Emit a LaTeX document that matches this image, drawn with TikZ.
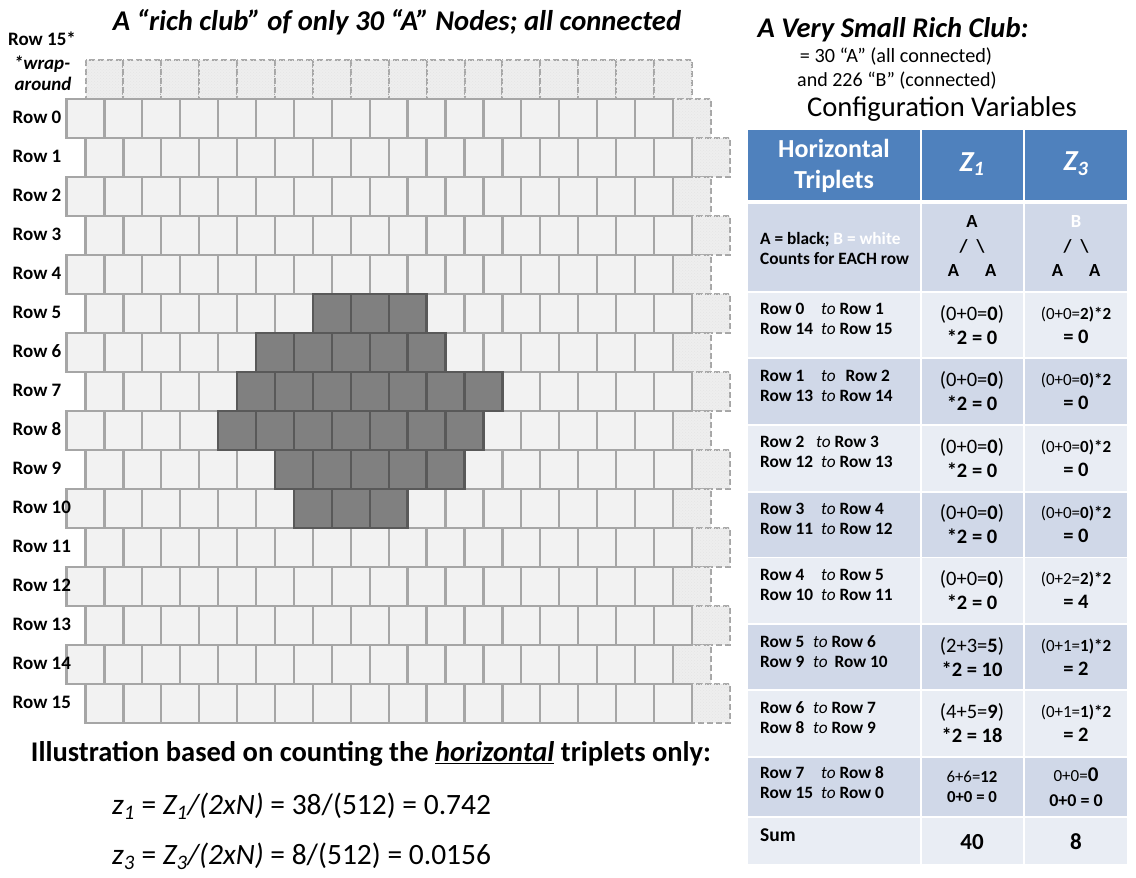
\documentclass[tikz,border=0pt]{standalone}
\usepackage{fontspec}
\setmainfont{Carlito}
\usetikzlibrary{patterns}
\definecolor{cellfill}{HTML}{F2F2F2}
\definecolor{cellline}{HTML}{A6A6A6}
\definecolor{darkfill}{HTML}{808080}
\definecolor{darkline}{HTML}{595959}
\definecolor{wrapfill}{HTML}{EEEEEE}
\definecolor{hdrblue}{HTML}{4F81BD}
\definecolor{rowdark}{HTML}{D0D8E8}
\definecolor{rowlight}{HTML}{E9EDF4}
\newcommand{\fsz}[2]{\fontsize{#1}{#2}\selectfont}
\newcommand{\rr}[3]{\makebox[#1pt][l]{#2}{\mdseries\itshape to} #3}
\tikzset{
  lightcell/.style={fill=cellfill,draw=cellline,line width=2.3pt},
  darkcell/.style={fill=darkfill,draw=darkline,line width=2.4pt},
  wrapcell/.style={fill=wrapfill,postaction={pattern=crosshatch dots,pattern color=black!10},draw=cellline,line width=2pt,dash pattern=on 6pt off 3pt},
  rowlabel/.style={anchor=west,font=\bfseries\fsz{19}{20},inner sep=0pt},
  colone/.style={anchor=west,align=left,inner sep=0pt,font=\bfseries\fsz{17.3}{20}},
  coltwo/.style={align=center,inner sep=0pt,font=\fsz{20.5}{24}},
}
\begin{document}
\begin{tikzpicture}[x=1pt,y=-1pt]
\useasboundingbox (0,0) rectangle (1136,878);
\fill[white] (0,0) rectangle (1136,878);
\def\cw{37.9}\def\rh{39}\def\gy{98.7}
% wrap-around cells
\foreach \k in {0,...,15}{
  \draw[wrapcell] ({85.5+\k*\cw},{\gy-\rh}) rectangle ++(\cw,\rh);
}
\foreach \r in {0,...,15}{
  \pgfmathsetmacro\xo{isodd(\r)?85.5:66.5}
  \pgfmathsetmacro\yt{\gy+\r*\rh}
  \draw[wrapcell] ({\xo+16*\cw},\yt) rectangle ++(\cw,\rh);
}
% light cells
\foreach \r in {0,...,15}{
  \pgfmathsetmacro\xo{isodd(\r)?85.5:66.5}
  \pgfmathsetmacro\yt{\gy+\r*\rh}
  \foreach \k in {0,...,15}{
    \draw[lightcell] ({\xo+\k*\cw},\yt) rectangle ++(\cw,\rh);
  }
}
% dark cells (rich club)
\foreach \r/\a/\b in {5/6/8,6/5/9,7/4/10,8/4/10,9/5/9,10/6/8}{
  \pgfmathsetmacro\xo{isodd(\r)?85.5:66.5}
  \pgfmathsetmacro\yt{\gy+\r*\rh}
  \foreach \k in {\a,...,\b}{
    \draw[darkcell] ({\xo+\k*\cw},\yt) rectangle ++(\cw,\rh);
  }
}
% row labels
\foreach \r in {0,...,15}{
  \node[rowlabel] (rl\r) at (12.5,{\gy+\r*\rh+18.5}) {Row \r};
}
\node[font=\bfseries\fsz{19}{20},inner sep=0pt] (r15s) at (42,39) {Row 15*};
\node[font=\bfseries\itshape\fsz{19}{20},inner sep=0pt] (wrapa) at (42,64) {*wrap-};
\node[font=\bfseries\itshape\fsz{19}{20},inner sep=0pt] (wrapb) at (43,84) {around};
% titles
\node[font=\bfseries\itshape\fsz{28.6}{32}] (title) at (397,22) {A “rich club” of only 30 “A” Nodes; all connected};
\node[font=\bfseries\fsz{28.5}{32}] (illus) at (371,754) {Illustration based on counting the \underline{\itshape horizontal} triplets only:};
\node[anchor=west,font=\fsz{29.5}{32},inner sep=0pt] (zone) at (112,806) {\textit{z}\textsubscript{\itshape 1} = \textit{Z\textsubscript{1}/(2xN)} = 38/(512) = 0.742};
\node[anchor=west,font=\fsz{29.5}{32},inner sep=0pt] (zthree) at (112,856) {\textit{z}\textsubscript{\itshape 3} = \textit{Z\textsubscript{3}/(2xN)} = 8/(512) = 0.0156};
% right side headings
\node[font=\bfseries\itshape\fsz{28.5}{32}] (club) at (893,30) {A Very Small Rich Club:};
\node[font=\fsz{20.2}{22}] (eqa) at (896,57) {= 30 “A” (all connected)};
\node[font=\fsz{20}{22}] (eqb) at (897,81) {and 226 “B” (connected)};
\node[font=\fsz{28.6}{32}] (cfg) at (942,109) {Configuration Variables};
% table backgrounds
\fill[hdrblue] (748,129.5) rectangle (920,200);
\fill[hdrblue] (922,129.5) rectangle (1023,200);
\fill[hdrblue] (1025,129.5) rectangle (1127,200);
\foreach \t/\b/\c in {203.5/290.5/rowdark,292.5/357/rowlight,359/424/rowdark,425.5/490.5/rowlight,492.5/556.5/rowdark,558/623/rowlight,625/689/rowdark,691/756/rowlight,758/816/rowdark,818/864/rowlight}{
  \fill[\c] (748,\t) rectangle (920,\b);
  \fill[\c] (922,\t) rectangle (1023,\b);
  \fill[\c] (1025,\t) rectangle (1127,\b);
}
% header text
\node[align=center,text=white,font=\bfseries\fsz{26}{31}] (hh) at (834,166) {Horizontal\\Triplets};
\node[text=white,font=\bfseries\itshape\fsz{29}{30}] (hz1) at (972,164) {Z\textsubscript{1}};
\node[text=white,font=\bfseries\itshape\fsz{29}{30}] (hz3) at (1076,164) {Z\textsubscript{3}};
% row A
\node[anchor=west,align=left,inner sep=0pt,font=\bfseries\fsz{17.3}{20}] (ra1) at (760,248) {A = black; {\color{white}B = white}\\Counts for EACH row};
\node[align=center,inner sep=0pt,font=\bfseries\fsz{18.5}{24}] (ra2) at (972,246) {A\\/\hspace{9pt}\textbackslash\\A\hspace{26pt}A};
\node[align=center,inner sep=0pt,font=\bfseries\fsz{18.5}{24}] (ra3) at (1076,246) {{\color{white}B}\\/\hspace{9pt}\textbackslash\\A\hspace{26pt}A};
% rows
\node[colone] (ta1) at (760,319) {\rr{61}{Row 0}{Row 1}\\\rr{61}{Row 14}{Row 15}};
\node[coltwo] (ta2) at (972,325) {(0+0=\textbf{0})\\\textbf{*2 = 0}};
\node[coltwo] (ta3) at (1076,325) {{\fsz{17}{24}(0+0=\textbf{2)*2}}\\\textbf{= 0}};
\node[colone] (tb1) at (760,385.5) {\rr{61}{Row 1}{\hspace{6pt}Row 2}\\\rr{61}{Row 13}{Row 14}};
\node[coltwo] (tb2) at (972,391.5) {(0+0=\textbf{0})\\\textbf{*2 = 0}};
\node[coltwo] (tb3) at (1076,391.5) {{\fsz{17}{24}(0+0=\textbf{0)*2}}\\\textbf{= 0}};
\node[colone] (tc1) at (760,452) {\rr{56}{Row 2}{Row 3}\\\rr{61}{Row 12}{Row 13}};
\node[coltwo] (tc2) at (972,458) {(0+0=\textbf{0})\\\textbf{*2 = 0}};
\node[coltwo] (tc3) at (1076,458) {{\fsz{17}{24}(0+0=\textbf{0)*2}}\\\textbf{= 0}};
\node[colone] (td1) at (760,518.5) {\rr{61}{Row 3}{Row 4}\\\rr{61}{Row 11}{Row 12}};
\node[coltwo] (td2) at (972,524.5) {(0+0=\textbf{0})\\\textbf{*2 = 0}};
\node[coltwo] (td3) at (1076,524.5) {{\fsz{17}{24}(0+0=\textbf{0)*2}}\\\textbf{= 0}};
\node[colone] (te1) at (760,584.5) {\rr{61}{Row 4}{Row 5}\\\rr{61}{Row 10}{Row 11}};
\node[coltwo] (te2) at (972,590.5) {(0+0=\textbf{0})\\\textbf{*2 = 0}};
\node[coltwo] (te3) at (1076,590.5) {{\fsz{17}{24}(0+2=\textbf{2)*2}}\\\textbf{= 4}};
\node[colone] (tf1) at (760,652) {\rr{53}{Row 5}{Row 6}\\\rr{53}{Row 9}{\hspace{3pt}Row 10}};
\node[coltwo] (tf2) at (972,657) {(2+3=\textbf{5})\\\textbf{*2 = 10}};
\node[coltwo] (tf3) at (1076,657) {{\fsz{17}{24}(0+1=\textbf{1)*2}}\\\textbf{= 2}};
\node[colone] (tg1) at (760,718) {\rr{53}{Row 6}{Row 7}\\\rr{53}{Row 8}{Row 9}};
\node[coltwo] (tg2) at (972,723.5) {(4+5=\textbf{9})\\\textbf{*2 = 18}};
\node[coltwo] (tg3) at (1076,723.5) {{\fsz{17}{24}(0+1=\textbf{1)*2}}\\\textbf{= 2}};
\node[colone] (th1) at (760,783) {\rr{61}{Row 7}{Row 8}\\\rr{61}{Row 15}{Row 0}};
\node[align=center,inner sep=0pt,font=\fsz{16.8}{20}] (th2) at (972,787) {6+6=\textbf{12}\\\textbf{0+0 = 0}};
\node[align=center,inner sep=0pt,font=\fsz{17}{25}] (th3) at (1076,787.5) {0+0={\fsz{21}{25}\textbf{0}}\\{\fsz{18}{25}\textbf{0+0 = 0}}};
\node[anchor=west,inner sep=0pt,font=\bfseries\fsz{19.5}{20}] (ts1) at (760,835) {Sum};
\node[inner sep=0pt,font=\bfseries\fsz{23}{24}] (ts2) at (972,842) {40};
\node[inner sep=0pt,font=\bfseries\fsz{23}{24}] (ts3) at (1076,842) {8};
\end{tikzpicture}
\end{document}
